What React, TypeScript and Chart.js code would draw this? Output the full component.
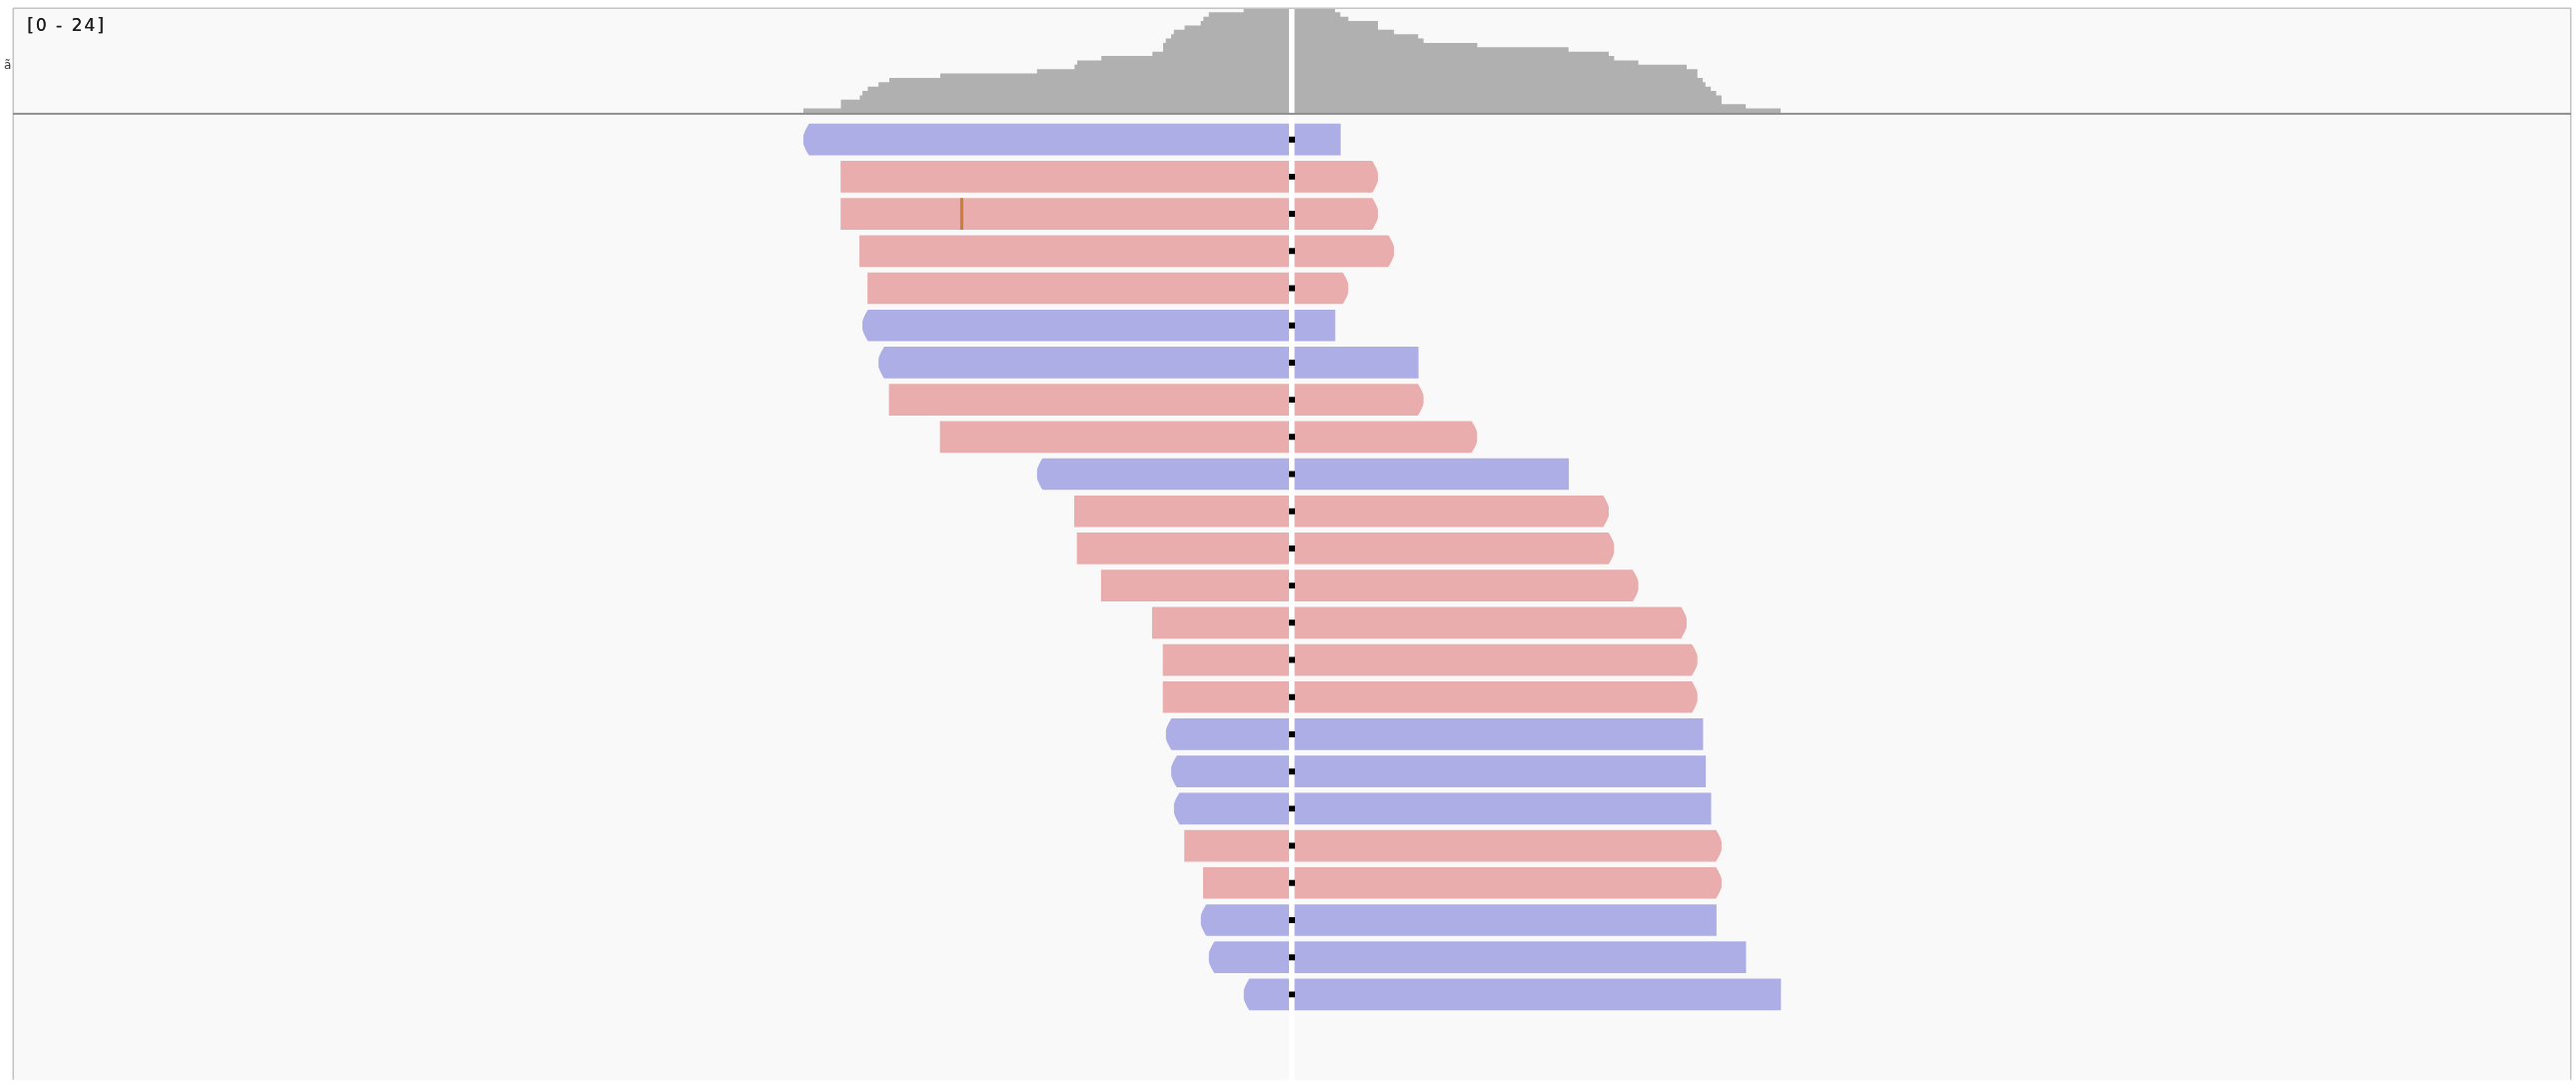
import { useEffect, useRef } from 'react';
import { Chart, registerables } from 'chart.js';

Chart.register(...registerables);

// ---- data (positions in bp relative to the centre guide) ----
const readStarts = [-91, -84, -84, -80.5, -79, -80, -77, -75, -65.5, -47.5, -40.5, -40, -35.5, -26, -24, -24, -23.5, -22.5, -22, -20, -16.5, -17, -15.5, -9];
const readEnds = [9, 16, 16, 19, 10.5, 8, 23.5, 24.5, 34.5, 51.5, 59, 60, 64.5, 73.5, 75.5, 75.5, 76.5, 77, 78, 80, 80, 79, 84.5, 91];
const readStrands = ['-', '+', '+', '+', '+', '-', '-', '+', '+', '-', '+', '+', '+', '+', '+', '+', '-', '-', '-', '+', '+', '-', '-', '-'];
const mismatchRows = [2];
const mismatchPositions = [-61.5];
const coverageMax = 24;
const viewMin = -238;
const viewMax = 238;
const centerPos = 0;

// ---- styles ----
const W = 2578;
const H = 1085;
const BG = '#f9f9f9';
const FWD = '#e9adad';
const REV = '#adaee6';
const COV = '#b0b0b0';
const PAD = { left: 14, top: 8, right: 6, bottom: 0 };
const COV_BASE_PX = 113.3; // pixel of coverage 0
const ROW0_PX = 140.2;
const ROW_PITCH = 37.35;

function computeCoverage() {
  const bps = Array.from(new Set([...readStarts, ...readEnds])).sort((a, b) => a - b);
  const pts: { x: number; y: number }[] = [{ x: viewMin, y: 0 }];
  for (const p of bps) {
    let c = 0;
    for (let i = 0; i < readStarts.length; i++) if (readStarts[i] <= p && p < readEnds[i]) c++;
    pts.push({ x: p, y: c });
  }
  pts.push({ x: viewMax, y: 0 });
  return pts;
}

const igvPlugin = {
  id: 'igvDecor',
  beforeDraw(chart: any) {
    const { ctx, chartArea: a } = chart;
    ctx.save();
    ctx.fillStyle = '#ffffff';
    ctx.fillRect(0, 0, chart.width, chart.height);
    ctx.fillStyle = BG;
    ctx.fillRect(a.left, a.top, a.right - a.left, a.bottom - a.top);
    ctx.restore();
  },
  afterDatasetDraw(chart: any, args: any) {
    const ds = chart.data.datasets[args.index];
    const { ctx } = chart;
    if (ds.label === 'reads') {
      ctx.save();
      ctx.fillStyle = BG;
      const L = 6;
      const F = 4;
      args.meta.data.forEach((el: any, i: number) => {
        const p = el.getProps(['x', 'y', 'base', 'height'], true);
        const left = Math.min(p.x, p.base);
        const right = Math.max(p.x, p.base);
        const top = p.y - p.height / 2;
        const bot = p.y + p.height / 2;
        const mid = p.y;
        ctx.beginPath();
        if (readStrands[i] === '+') {
          ctx.moveTo(right - L, top - 1);
          ctx.lineTo(right + 1, top - 1);
          ctx.lineTo(right + 1, bot + 1);
          ctx.lineTo(right - L, bot + 1);
          ctx.quadraticCurveTo(right - 1, bot - 7, right, mid + F);
          ctx.lineTo(right, mid - F);
          ctx.quadraticCurveTo(right - 1, top + 7, right - L, top - 1);
        } else {
          ctx.moveTo(left + L, top - 1);
          ctx.lineTo(left - 1, top - 1);
          ctx.lineTo(left - 1, bot + 1);
          ctx.lineTo(left + L, bot + 1);
          ctx.quadraticCurveTo(left + 1, bot - 7, left, mid + F);
          ctx.lineTo(left, mid - F);
          ctx.quadraticCurveTo(left + 1, top + 7, left + L, top - 1);
        }
        ctx.closePath();
        ctx.fill();
      });
      ctx.restore();
    }
    if (ds.label === 'mismatch') {
      const cx = chart.scales.x.getPixelForValue(centerPos);
      ctx.save();
      ctx.fillStyle = '#ffffff';
      ctx.fillRect(cx - 3, 0, 5.5, chart.chartArea.bottom);
      ctx.restore();
    }
  },
  afterDraw(chart: any) {
    const { ctx, chartArea: a } = chart;
    ctx.save();
    // frame
    ctx.fillStyle = '#c4c4c4';
    ctx.fillRect(a.left - 1, a.top - 0.5, a.right - a.left + 2, 1.5);
    ctx.fillRect(a.left - 1.5, a.top, 1.5, a.bottom - a.top);
    ctx.fillRect(a.right, a.top, 1.5, a.bottom - a.top);
    // coverage / alignment separator
    const base = chart.scales.yCov.getPixelForValue(0);
    ctx.fillStyle = '#8e8e8e';
    ctx.fillRect(a.left - 1, base, a.right - a.left + 2, 2);
    // data range label
    ctx.fillStyle = '#1a1a1a';
    ctx.font = '17px "DejaVu Sans", sans-serif';
    (ctx as any).letterSpacing = '2px';
    ctx.textBaseline = 'middle';
    ctx.textAlign = 'left';
    ctx.fillText('[0 - ' + coverageMax + ']', 27, 26.5);
    ctx.fillText('[0 - ' + coverageMax + ']', 27.4, 26.5);
    (ctx as any).letterSpacing = '0px';
    // clipped track name
    ctx.font = '12px "DejaVu Sans", sans-serif';
    ctx.fillStyle = '#333333';
    ctx.fillText('ã', 4, 66);
    ctx.restore();
  },
};

export default function App() {
  const ref = useRef<HTMLCanvasElement>(null);
  useEffect(() => {
    document.body.style.margin = '0';
    document.body.style.background = '#ffffff';
    const cov = computeCoverage();
    const plotH = H - PAD.top - PAD.bottom;
    const covPxPerUnit = (COV_BASE_PX - PAD.top) / coverageMax;
    const covMin = -(H - PAD.bottom - COV_BASE_PX) / covPxPerUnit;
    const readMin = (PAD.top - ROW0_PX) / ROW_PITCH;
    const readMax = readMin + plotH / ROW_PITCH;

    const chart = new Chart(ref.current as HTMLCanvasElement, {
      type: 'bar',
      data: {
        datasets: [
          {
            type: 'line',
            label: 'coverage',
            data: cov,
            indexAxis: 'x',
            xAxisID: 'x',
            yAxisID: 'yCov',
            stepped: true,
            fill: 'origin',
            backgroundColor: COV,
            borderColor: 'rgba(0,0,0,0)',
            borderWidth: 0,
            pointRadius: 0,
            order: 4,
          } as any,
          {
            type: 'bar',
            label: 'reads',
            data: readStarts.map((s, i) => ({ x: [s, readEnds[i]], y: i })),
            indexAxis: 'y',
            xAxisID: 'x',
            yAxisID: 'yReads',
            backgroundColor: readStrands.map((s) => (s === '+' ? FWD : REV)),
            borderWidth: 0,
            barThickness: 31,
            grouped: false,
            order: 3,
          } as any,
          {
            type: 'bar',
            label: 'mismatch',
            data: mismatchRows.map((r, i) => ({ x: [mismatchPositions[i] - 0.23, mismatchPositions[i] + 0.23], y: r })),
            indexAxis: 'y',
            xAxisID: 'x',
            yAxisID: 'yReads',
            backgroundColor: '#cf7f35',
            borderWidth: 0,
            barThickness: 31,
            grouped: false,
            order: 2,
          } as any,
          {
            type: 'scatter',
            label: 'center',
            data: readStarts.map((_, i) => ({ x: centerPos, y: i })),
            xAxisID: 'x',
            yAxisID: 'yReads',
            pointStyle: 'rect',
            pointRadius: 4.2,
            backgroundColor: '#000000',
            borderWidth: 0,
            order: 1,
          } as any,
        ],
      },
      options: {
        animation: false,
        responsive: false,
        events: [],
        layout: { padding: PAD },
        plugins: { legend: { display: false }, tooltip: { enabled: false } },
        scales: {
          x: { type: 'linear', min: viewMin, max: viewMax, display: false, offset: false, grace: 0, grid: { offset: false } },
          yCov: { type: 'linear', min: covMin, max: coverageMax, display: false, position: 'left', offset: false, grace: 0, grid: { offset: false } },
          yReads: { type: 'linear', min: readMin, max: readMax, reverse: true, display: false, position: 'left', offset: false, grace: 0, grid: { offset: false } },
        },
      } as any,
      plugins: [igvPlugin],
    });
    return () => chart.destroy();
  }, []);
  return (
    <div style={{ width: W, height: H, overflow: 'hidden', background: '#ffffff' }}>
      <canvas ref={ref} width={W} height={H} style={{ display: 'block', width: W, height: H }} />
    </div>
  );
}
